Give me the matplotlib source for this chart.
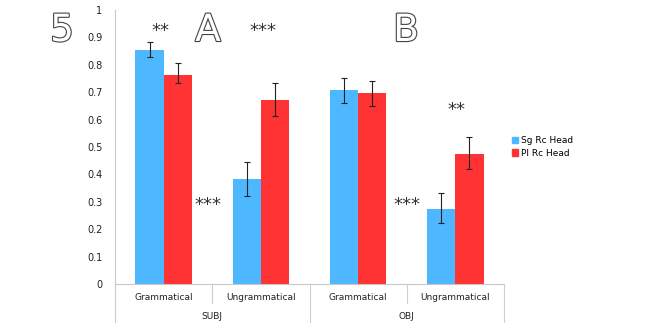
import matplotlib
matplotlib.use("Agg")
import matplotlib.pyplot as plt
import matplotlib.patheffects as pe
from matplotlib.lines import Line2D
import numpy as np

categories = ["Grammatical", "Ungrammatical", "Grammatical", "Ungrammatical"]
groups = ["SUBJ", "OBJ"]
series_names = ["Sg Rc Head", "Pl Rc Head"]
sg_values = [0.855, 0.383, 0.707, 0.274]
sg_err_low = [0.830, 0.322, 0.660, 0.222]
sg_err_high = [0.885, 0.445, 0.752, 0.331]
pl_values = [0.762, 0.672, 0.698, 0.473]
pl_err_low = [0.735, 0.613, 0.651, 0.421]
pl_err_high = [0.808, 0.732, 0.741, 0.536]
yticks = [0, 0.1, 0.2, 0.3, 0.4, 0.5, 0.6, 0.7, 0.8, 0.9, 1]
ytick_labels = ["0", "0.1", "0.2", "0.3", "0.4", "0.5", "0.6", "0.7", "0.8", "0.9", "1"]

blue = "#4DB8FF"
red = "#FF3333"

fig = plt.figure(figsize=(6.59, 3.23), dpi=100)
ax = fig.add_axes([115/659, 1-284/323, (504-115)/659, (284-10)/323])

x = np.arange(len(categories))
w = 0.29
sg_x = x - w/2
pl_x = x + w/2
ax.bar(sg_x, sg_values, width=w, color=blue, zorder=2)
ax.bar(pl_x, pl_values, width=w, color=red, zorder=2)

sg_v = np.array(sg_values)
pl_v = np.array(pl_values)
ax.errorbar(sg_x, sg_v, yerr=[sg_v - np.array(sg_err_low), np.array(sg_err_high) - sg_v],
            fmt="none", ecolor="#222222", elinewidth=0.8, capsize=2.2, capthick=0.8, zorder=3)
ax.errorbar(pl_x, pl_v, yerr=[pl_v - np.array(pl_err_low), np.array(pl_err_high) - pl_v],
            fmt="none", ecolor="#222222", elinewidth=0.8, capsize=2.2, capthick=0.8, zorder=3)

ax.set_xlim(-0.5, len(categories) - 0.5)
ax.set_ylim(0, 1)
ax.set_yticks(yticks)
ax.set_yticklabels(ytick_labels, fontsize=7, color="#222222")
ax.tick_params(axis="y", length=0, pad=9)
ax.set_xticks([])
for s in ["top", "right"]:
    ax.spines[s].set_visible(False)
ax.spines["left"].set_color("#c8c8c8")
ax.spines["bottom"].set_color("#c8c8c8")
ax.spines["left"].set_linewidth(0.8)
ax.spines["bottom"].set_linewidth(0.8)

# category labels and separators
trans = ax.get_xaxis_transform()
for i, c in enumerate(categories):
    ax.text(i, -0.05, c, transform=trans, ha="center", va="center", fontsize=6.5, color="#222222")
for b in [0.5, 2.5]:
    ax.add_line(Line2D([b, b], [0, -0.07], transform=trans, color="#d0d0d0", lw=0.8, clip_on=False))
for b in [-0.5, 1.5, 3.5]:
    ax.add_line(Line2D([b, b], [0, -0.15], transform=trans, color="#d0d0d0", lw=0.8, clip_on=False))
for gi, g in enumerate(groups):
    ax.text(gi*2 + 0.5, -0.118, g, transform=trans, ha="center", va="center", fontsize=6.5, color="#222222")

# significance annotations
def star(xp, yp, s):
    fig.text(xp/659, 1-yp/323, s, ha="center", va="center", fontsize=13, color="#333333")
star(160, 31, "**")
star(263, 31, "***")
star(208, 205, "***")
star(407, 205, "***")
star(456, 110, "**")

# panel letters with outline
def outlined(xp, yp, s):
    t = fig.text(xp/659, 1-yp/323, s, ha="center", va="center", fontsize=27, color="white",
                 family="DejaVu Sans")
    t.set_path_effects([pe.withStroke(linewidth=1.6, foreground="#444444")])
outlined(62, 31, "5")
outlined(208, 31, "A")
outlined(406, 31, "B")

# legend
handles = [plt.Rectangle((0, 0), 1, 1, color=blue), plt.Rectangle((0, 0), 1, 1, color=red)]
fig.legend(handles, series_names, loc="center left", bbox_to_anchor=(508/659, 1-147/323),
           frameon=False, fontsize=6.5, handlelength=0.7, handleheight=0.7, handletextpad=0.3,
           labelspacing=0.4, borderaxespad=0)

fig.savefig("out.png", dpi=100)
